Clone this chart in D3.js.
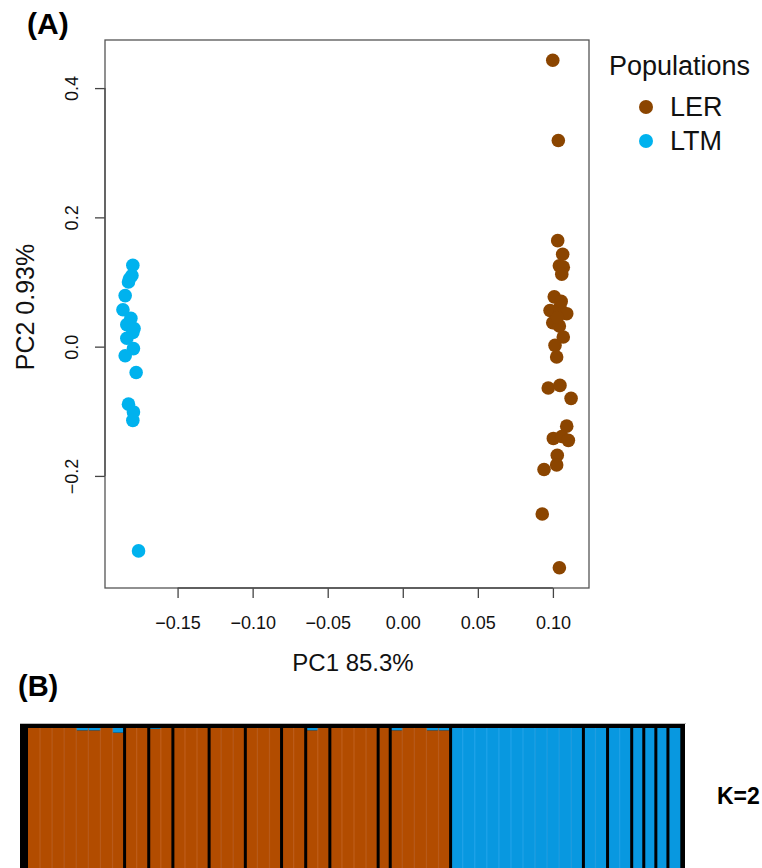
<!DOCTYPE html>
<html lang="en">
<head>
<meta charset="UTF-8">
<title>PCA and STRUCTURE</title>
<script src="https://d3js.org/d3.v7.min.js"></script>
<style>
  body, html { margin: 0; padding: 0; background: #fff; overflow: hidden; }
  svg { display: block; font-family: "Liberation Sans", Arial, sans-serif; }
</style>
</head>
<body>
<svg id="chart" width="762" height="868"></svg>
<script>
// ---- PCA data (PC1, PC2) ----
const lerPoints = [
  [0.0999, 0.443], [0.1036, 0.319], [0.1032, 0.164], [0.1065, 0.143], [0.1043, 0.125],
  [0.1069, 0.123], [0.1059, 0.112], [0.1009, 0.077], [0.0981, 0.056], [0.1047, 0.061],
  [0.1092, 0.051], [0.0999, 0.037], [0.1043, 0.032], [0.1069, 0.015], [0.1014, 0.002],
  [0.1025, -0.016], [0.0969, -0.064], [0.1047, -0.060], [0.1121, -0.080], [0.1092, -0.123],
  [0.1003, -0.142], [0.1059, -0.139], [0.1103, -0.145], [0.1029, -0.168], [0.1025, -0.183],
  [0.0941, -0.190], [0.0929, -0.259], [0.1043, -0.342], [0.1030, 0.045], [0.1055, 0.070]
];
const ltmPoints = [
  [-0.1798, 0.126], [-0.1804, 0.110], [-0.1827, 0.100], [-0.1849, 0.079], [-0.1864, 0.057],
  [-0.1811, 0.044], [-0.1838, 0.034], [-0.1798, 0.022], [-0.1838, 0.013], [-0.1794, -0.003],
  [-0.1849, -0.014], [-0.1776, -0.040], [-0.1827, -0.089], [-0.1794, -0.101], [-0.1798, -0.114],
  [-0.1760, -0.316], [-0.1820, 0.105], [-0.1790, 0.028]
];
const populations = ["LER", "LTM"];
const xTicks = [-0.15, -0.10, -0.05, 0.00, 0.05, 0.10];
const yTicks = [-0.2, 0.0, 0.2, 0.4];

// ---- STRUCTURE K=2 data ----
const groupSizes = [8, 2, 2, 3, 3, 3, 2, 2, 4, 1, 5, 11, 2, 2, 1, 1, 1, 1];
// membership in the LER cluster, one value per individual
const qLER = [
  1, 1, 1, 1, 0.985, 0.985, 1, 0.97,
  1, 1,
  0.995, 1,
  1, 1, 1,
  1, 1, 1,
  1, 1, 1,
  1, 1,
  0.985, 1,
  1, 1, 1, 1,
  1,
  0.985, 1, 1, 0.985, 0.985,
  0, 0, 0, 0, 0, 0, 0, 0, 0, 0, 0,
  0, 0,
  0, 0,
  0, 0, 0, 0
];

const pcaColors = { LER: "#8b4500", LTM: "#00b2ee" };
const strOrange = "#b24c00", strBlue = "#0898e0";

const svg = d3.select("#chart");

// ================= (A) PCA =================
const all = lerPoints.concat(ltmPoints);
function padded(ext) { const p = (ext[1] - ext[0]) * 0.04; return [ext[0] - p, ext[1] + p]; }
const x = d3.scaleLinear().domain(padded(d3.extent(all, d => d[0]))).range([105, 589]);
const y = d3.scaleLinear().domain(padded(d3.extent(all, d => d[1]))).range([588, 40]);

const pca = svg.append("g");

// x axis
const xa = pca.append("g").attr("transform", "translate(0,588)")
  .call(d3.axisBottom(x).tickValues(xTicks).tickFormat(d3.format(".2f")).tickSize(10).tickPadding(0));
xa.select(".domain").attr("d", `M${x(xTicks[0])},0H${x(xTicks[xTicks.length - 1])}`);
xa.selectAll("line, .domain").attr("stroke", "#444").attr("stroke-width", 1.3);
xa.selectAll("text").attr("y", 35).attr("dy", null).attr("dominant-baseline", "central")
  .attr("font-size", 18).attr("fill", "#111").attr("font-family", "Liberation Sans, Arial, sans-serif");

// y axis
const ya = pca.append("g").attr("transform", "translate(105,0)")
  .call(d3.axisLeft(y).tickValues(yTicks).tickFormat(d3.format(".1f")).tickSize(10));
ya.select(".domain").attr("d", `M0,${y(yTicks[0])}V${y(yTicks[yTicks.length - 1])}`);
ya.selectAll("line, .domain").attr("stroke", "#444").attr("stroke-width", 1.3);
ya.selectAll("text")
  .attr("transform", "rotate(-90)")
  .attr("x", 0).attr("y", -33).attr("dy", null)
  .attr("text-anchor", "middle").attr("dominant-baseline", "central")
  .attr("font-size", 18).attr("fill", "#111").attr("font-family", "Liberation Sans, Arial, sans-serif");

// box
pca.append("rect").attr("x", 105).attr("y", 40).attr("width", 484).attr("height", 548)
  .attr("fill", "none").attr("stroke", "#555").attr("stroke-width", 1.3);

// points
pca.append("g").selectAll("circle").data(lerPoints).join("circle")
  .attr("cx", d => x(d[0])).attr("cy", d => y(d[1])).attr("r", 6.8).attr("fill", pcaColors.LER);
pca.append("g").selectAll("circle").data(ltmPoints).join("circle")
  .attr("cx", d => x(d[0])).attr("cy", d => y(d[1])).attr("r", 6.8).attr("fill", pcaColors.LTM);

// axis titles
pca.append("text").attr("x", 353).attr("y", 662).attr("text-anchor", "middle")
  .attr("dominant-baseline", "central").attr("font-size", 24).attr("fill", "#111").text("PC1 85.3%");
pca.append("text").attr("transform", "translate(25,307) rotate(-90)").attr("text-anchor", "middle")
  .attr("dominant-baseline", "central").attr("font-size", 25).attr("fill", "#111").text("PC2 0.93%");

// legend
const leg = pca.append("g");
leg.append("text").attr("x", 609).attr("y", 66).attr("dominant-baseline", "central")
  .attr("font-size", 27).attr("fill", "#111").text("Populations");
populations.forEach((p, i) => {
  const cy = 107 + i * 34;
  leg.append("circle").attr("cx", 646).attr("cy", cy).attr("r", 7).attr("fill", pcaColors[p]);
  leg.append("text").attr("x", 670).attr("y", cy).attr("dominant-baseline", "central")
    .attr("font-size", 27).attr("fill", "#111").text(p);
});

svg.append("text").attr("x", 27).attr("y", 23).attr("dominant-baseline", "central")
  .attr("font-size", 30).attr("font-weight", "bold").text("(A)");

// ================= (B) STRUCTURE =================
svg.append("text").attr("x", 18).attr("y", 686).attr("dominant-baseline", "central")
  .attr("font-size", 29).attr("font-weight", "bold").text("(B)");

const barTop = 728, barBottom = 882;
svg.append("line").attr("x1", 20).attr("x2", 686).attr("y1", 723.5).attr("y2", 723.5)
  .attr("stroke", "#bbb").attr("stroke-width", 1);
svg.append("rect").attr("x", 20).attr("y", 724).attr("width", 665).attr("height", 170).attr("fill", "#000");

const ids = d3.range(qLER.length);
const xb = d3.scaleBand().domain(ids).range([28, 680]).padding(0);
const yb = d3.scaleLinear().domain([0, 1]).range([barBottom, barTop]);

const bars = svg.append("g");
bars.selectAll("rect.ler").data(ids).join("rect").attr("class", "ler")
  .attr("x", i => xb(i)).attr("width", xb.bandwidth() + 0.3)
  .attr("y", i => yb(qLER[i])).attr("height", i => yb(0) - yb(qLER[i]))
  .attr("fill", strOrange);
bars.selectAll("rect.ltm").data(ids).join("rect").attr("class", "ltm")
  .attr("x", i => xb(i)).attr("width", xb.bandwidth() + 0.3)
  .attr("y", yb(1)).attr("height", i => yb(qLER[i]) - yb(1))
  .attr("fill", strBlue);

// faint individual borders inside groups
const groupStarts = [];
let acc = 0;
groupSizes.forEach(n => { groupStarts.push(acc); acc += n; });
const inner = ids.filter(i => i > 0 && !groupStarts.includes(i));
bars.selectAll("line.ind").data(inner).join("line").attr("class", "ind")
  .attr("x1", i => xb(i)).attr("x2", i => xb(i)).attr("y1", barTop).attr("y2", barBottom)
  .attr("stroke", i => qLER[i] > 0.5 ? "#c86a2c" : "#32acf0").attr("stroke-width", 1.2)
  .attr("opacity", 0.6);

// black population separators
bars.selectAll("line.sep").data(groupStarts.slice(1)).join("line").attr("class", "sep")
  .attr("x1", i => xb(i)).attr("x2", i => xb(i)).attr("y1", barTop).attr("y2", barBottom)
  .attr("stroke", "#000").attr("stroke-width", 3);

svg.append("text").attr("x", 717).attr("y", 796).attr("dominant-baseline", "central")
  .attr("font-size", 23).attr("font-weight", "bold").text("K=2");
</script>
</body>
</html>
